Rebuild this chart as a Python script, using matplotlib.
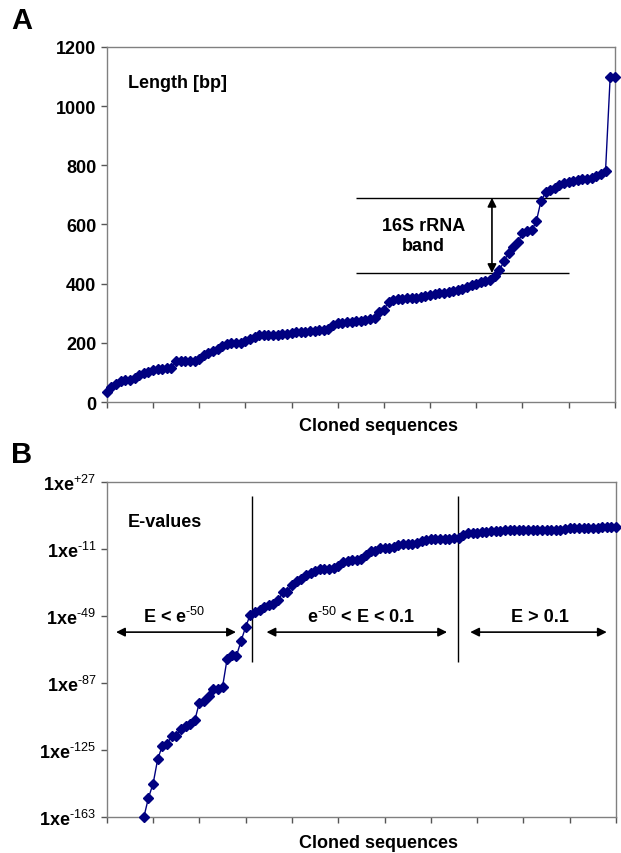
import numpy as np
import matplotlib.pyplot as plt

plt.rcParams['font.family'] = ['Liberation Sans', 'DejaVu Sans']
plt.rcParams['mathtext.fontset'] = 'custom'
plt.rcParams['mathtext.rm'] = 'Liberation Sans'
plt.rcParams['mathtext.bf'] = 'Liberation Sans:bold'
plt.rcParams['mathtext.default'] = 'rm'

# Panel A: sequence lengths (bp), sorted
lengths = [35, 50, 62, 70, 75, 75, 80, 90, 97, 100,
           108, 112, 112, 115, 115, 138, 140, 140, 140, 140,
           145, 160, 165, 172, 178, 188, 195, 200, 200, 200,
           205, 213, 220, 226, 226, 226, 228, 228, 230, 230,
           233, 236, 236, 238, 240, 240, 243, 245, 248, 262,
           268, 268, 270, 270, 275, 275, 278, 280, 285, 305,
           312, 338, 345, 348, 348, 350, 350, 352, 355, 358,
           362, 365, 368, 370, 372, 375, 378, 383, 390, 395,
           400, 405, 408, 412, 425, 445, 475, 505, 525, 540,
           570, 578, 580, 610, 678, 708, 715, 722, 732, 740,
           745, 748, 750, 752, 755, 758, 762, 770, 782, 1098,
           1098]

# Panel B: E-value exponents (1xe^n), first 8 sequences fall below the axis
evalue_start = 8
evalue_exp = [-163, -152, -144, -130, -122.5, -121.6, -117, -117, -113, -111,
              -110, -108, -98, -97, -94, -90, -90, -89, -73, -71,
              -71.5, -63, -55, -48, -46.5, -45.5, -44, -42.5, -41.8, -40,
              -35.5, -35.5, -31.4, -29, -27.6, -25.5, -24.5, -23.5, -22, -22,
              -22, -21.5, -20.4, -18, -17.4, -17, -17, -16.3, -14, -12,
              -12, -10.5, -10, -10, -9.5, -8.5, -8.2, -8, -8, -7.5,
              -6.5, -5.5, -5.3, -5.2, -5, -5, -5, -4.8, -4.5, -3,
              -1.8, -1.5, -1.5, -1.2, -1, -0.6, -0.6, -0.5, -0.3, 0,
              0, 0, 0, 0.1, 0.1, 0.1, 0.2, 0.2, 0.2, 0.2,
              0.2, 0.3, 1.0, 1.0, 1.1, 1.2, 1.2, 1.3, 1.3, 1.4,
              1.4, 1.5, 1.5]

ytick_a = [0, 200, 400, 600, 800, 1000, 1200]
ytick_b = [27, -11, -49, -87, -125, -163]
ytick_b_labels = ['+27', '-11', '-49', '-87', '-125', '-163']

navy = '#000080'
grey = '#808080'
fs = 13

fig = plt.figure(figsize=(6.21, 8.54), dpi=100)
ax1 = fig.add_axes([0.172, 0.528, 0.818, 0.416])
ax2 = fig.add_axes([0.172, 0.042, 0.820, 0.392])


def style_axis(ax, label_y):
    for s in ax.spines.values():
        s.set_color(grey)
        s.set_linewidth(1.0)
    ax.set_xlim(0, 110)
    ax.set_xticks(np.arange(0, 111, 10))
    ax.set_xticklabels([])
    ax.tick_params(direction='out', length=4, width=1, color='#555555',
                   labelsize=fs)
    for lab in ax.get_yticklabels():
        lab.set_fontweight('bold')
    ax.set_xlabel('Cloned sequences', fontsize=fs, fontweight='bold')
    ax.xaxis.set_label_coords(0.534, label_y, transform=ax.transAxes)
    ax.xaxis.label.set_va('center')


# ---- panel A ----
x_a = np.arange(len(lengths))
ax1.plot(x_a, lengths, color=navy, lw=1, marker='D', ms=5,
         mec=navy, mfc=navy, clip_on=False, zorder=3)
ax1.set_ylim(0, 1200)
ax1.set_yticks(ytick_a)
ax1.set_yticklabels([str(v) for v in ytick_a])
style_axis(ax1, -0.065)
ax1.text(4.5, 1080, 'Length [bp]', fontsize=fs, fontweight='bold', va='center')

ax1.hlines([690, 436], 54, 100, color='black', lw=1)
ax1.annotate('', xy=(83.4, 690), xytext=(83.4, 436),
             arrowprops=dict(arrowstyle='<|-|>', color='black', lw=1.2,
                             mutation_scale=13, shrinkA=0, shrinkB=0))
ax1.text(68.5, 563, '16S rRNA\nband', fontsize=fs, fontweight='bold',
         ha='center', va='center', linespacing=1.2)

# ---- panel B ----
x_b = np.arange(evalue_start, evalue_start + len(evalue_exp))
ax2.plot(x_b, evalue_exp, color=navy, lw=1, marker='D', ms=5,
         mec=navy, mfc=navy, clip_on=False, zorder=3)
ax2.set_ylim(-163, 27)
ax2.set_yticks(ytick_b)
ax2.set_yticklabels([r'1xe$^{\text{%s}}$' % s for s in ytick_b_labels])
style_axis(ax2, -0.075)
ax2.text(4.5, 5, 'E-values', fontsize=fs, fontweight='bold', va='center')

ax2.vlines([31.3, 75.9], -75, 19, color='black', lw=1)
arrows = [(2, 27.9), (34.5, 73.5), (78.5, 108)]
for x0, x1 in arrows:
    ax2.annotate('', xy=(x0, -58), xytext=(x1, -58),
                 arrowprops=dict(arrowstyle='<|-|>', color='black', lw=1.2,
                                 mutation_scale=13, shrinkA=0, shrinkB=0))
ax2.text(14.5, -49, r'E < e$^{\mathbf{\text{-50}}}$', fontsize=fs,
         fontweight='bold', ha='center', va='center')
ax2.text(55, -49, r'e$^{\mathbf{\text{-50}}}$ < E < 0.1', fontsize=fs,
         fontweight='bold', ha='center', va='center')
ax2.text(93.6, -49, 'E > 0.1', fontsize=fs, fontweight='bold',
         ha='center', va='center')

fig.text(0.018, 0.975, 'A', fontsize=21, fontweight='bold', va='center')
fig.text(0.018, 0.467, 'B', fontsize=21, fontweight='bold', va='center')

fig.savefig('out.png', dpi=100)
